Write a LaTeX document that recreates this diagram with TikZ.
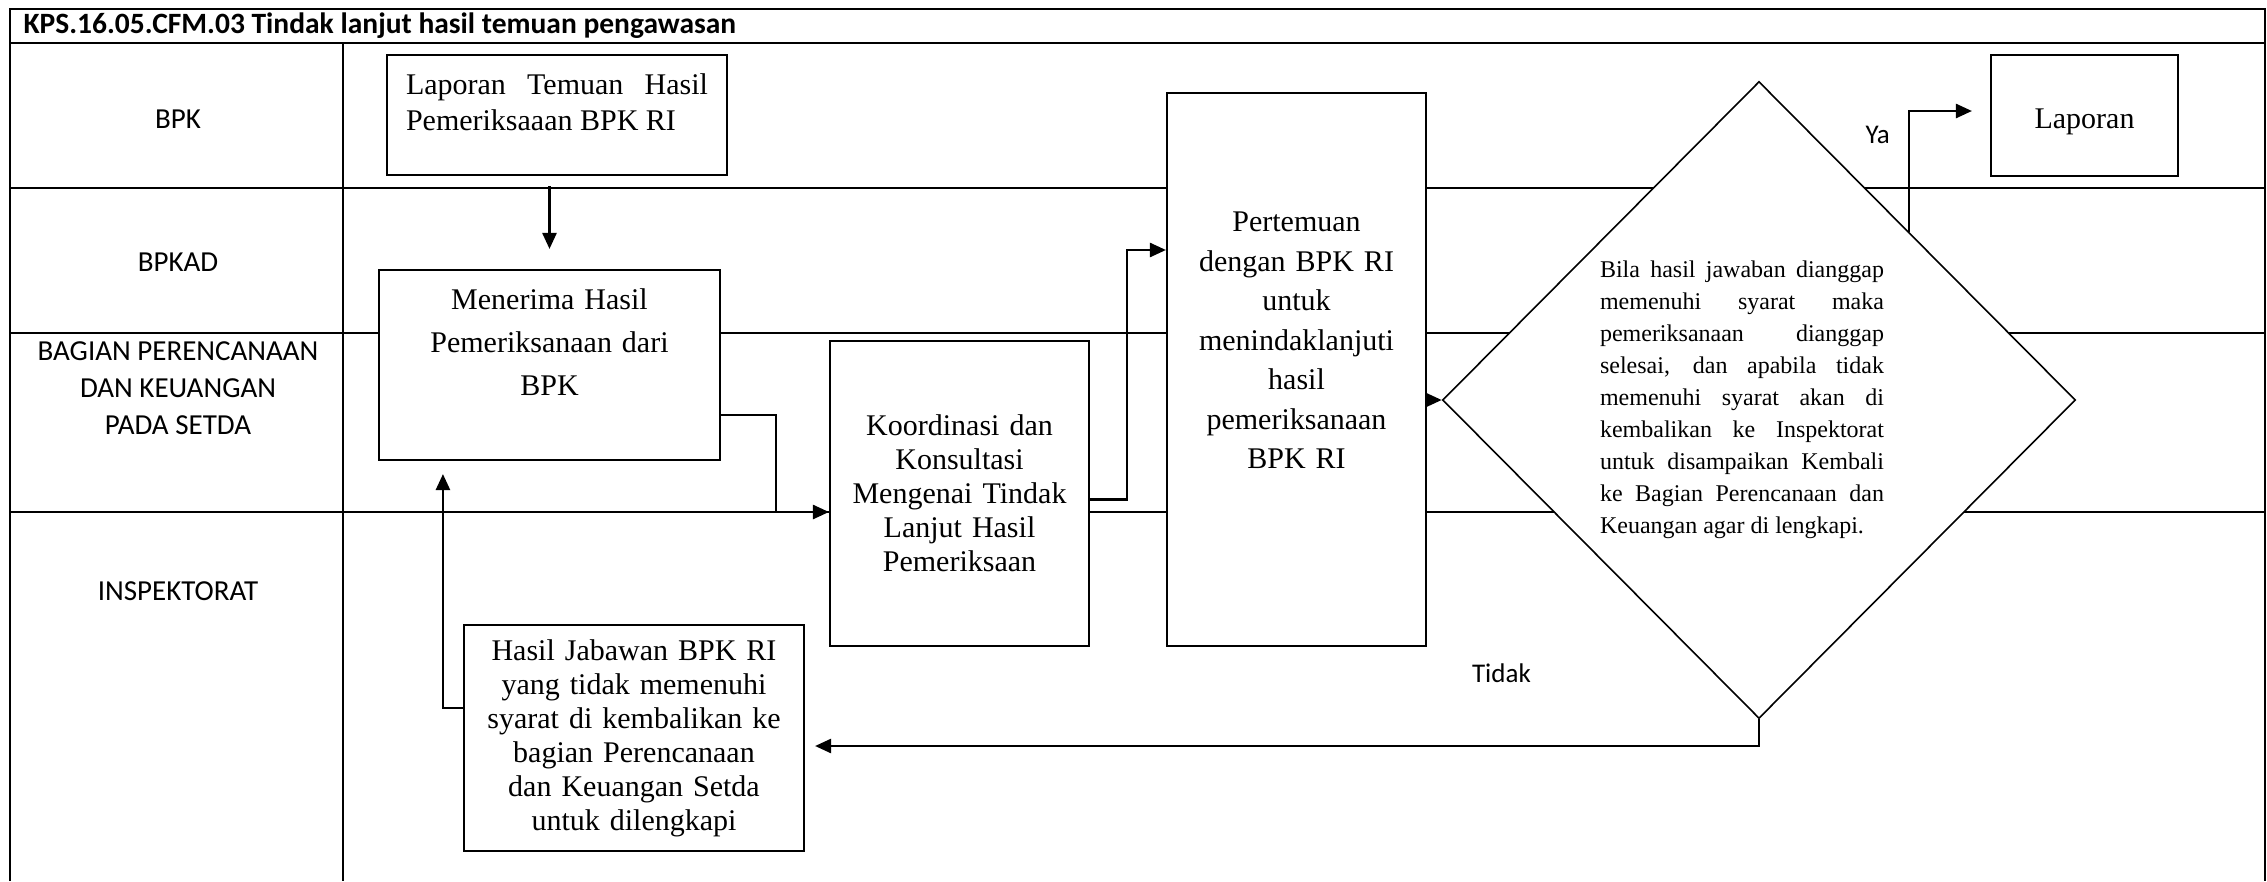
\documentclass[tikz,border=0pt]{standalone}
\usepackage{fontspec}
\setmainfont{Liberation Serif}
\newfontfamily\lanefont{Carlito}
\usetikzlibrary{shapes.geometric, arrows.meta, positioning, calc}

\begin{document}
\begin{tikzpicture}[
    x=1pt, y=-1pt,
    frame/.style={line width=2.1pt},
    lane/.style={font=\lanefont\fontsize{29}{37}\selectfont, align=center},
    box/.style={draw, line width=2.1pt, fill=white, align=center, inner sep=0pt, font=\fontsize{30}{36}\selectfont},
    decision/.style={diamond, draw, line width=1.6pt, fill=white, inner sep=0pt, aspect=1, font=\fontsize{24}{32}\selectfont},
    arrow/.style={-{Triangle[length=16pt, width=14pt]}, line width=2.5pt},
    lbl/.style={font=\lanefont\fontsize{27}{32}\selectfont, inner sep=0pt}
]
\useasboundingbox (0,0) rectangle (2267,881);

\draw[frame] (10,881) -- (10,9) -- (2265,9) -- (2265,881);
\draw[frame] (10,43) -- (2265,43);
\draw[frame] (343,43) -- (343,881);
\draw[frame] (10,188) -- (2265,188);
\draw[frame] (10,333) -- (2265,333);
\draw[frame] (10,512) -- (2265,512);

\node[anchor=west, font=\lanefont\bfseries\fontsize{29.5}{34}\selectfont] (title) at (20,26) {KPS.16.05.CFM.03 Tindak lanjut hasil temuan pengawasan};

\node[lane] (bpk) at (178,119) {BPK};
\node[lane] (bpkad) at (178,262) {BPKAD};
\node[lane] (bagian) at (178,388) {BAGIAN PERENCANAAN\\DAN KEUANGAN\\PADA SETDA};
\node[lane] (insp) at (178,591) {INSPEKTORAT};

\node[box, minimum width=340pt, minimum height=120pt, text width=302pt, align=justify] (temuan) at (557,115) {Laporan Temuan Hasil\linebreak Pemeriksaaan BPK RI\rule[-26pt]{0pt}{0pt}};
\node[box, minimum width=341pt, minimum height=190pt, text width=300pt, font=\fontsize{30}{43}\selectfont] (terima) at (549.5,365) {Menerima Hasil\\Pemeriksanaan dari\\BPK\rule[-46pt]{0pt}{0pt}};
\node[box, minimum width=259pt, minimum height=305pt, text width=250pt, font=\fontsize{30}{34}\selectfont] (koord) at (959.5,493.5) {Koordinasi dan\\Konsultasi\\Mengenai Tindak\\Lanjut Hasil\\Pemeriksaan};
\node[box, minimum width=259pt, minimum height=553pt, text width=250pt, font=\fontsize{30}{39.5}\selectfont] (pert) at (1296.5,369.5) {Pertemuan\\dengan BPK RI\\untuk\\menindaklanjuti\\hasil\\pemeriksanaan\\BPK RI\rule[-58pt]{0pt}{0pt}};
\node[decision, minimum width=633pt, minimum height=637pt] (dec) at (1759,400) {\parbox{284pt}{Bila hasil jawaban dianggap\linebreak memenuhi syarat maka\linebreak pemeriksanaan dianggap\linebreak selesai, dan apabila tidak\linebreak memenuhi syarat akan di\linebreak kembalikan ke Inspektorat\linebreak untuk disampaikan Kembali\linebreak ke Bagian Perencanaan dan\linebreak Keuangan agar di lengkapi.}\hspace*{34pt}};
\node[box, minimum width=187pt, minimum height=121pt] (lap) at (2084.5,115.5) {\rule{0pt}{32pt}Laporan};
\node[box, minimum width=340pt, minimum height=226pt, text width=320pt, font=\fontsize{30}{34}\selectfont] (jawab) at (634,738) {Hasil Jabawan BPK RI\\yang tidak memenuhi\\syarat di kembalikan ke\\bagian Perencanaan\\dan Keuangan Setda\\untuk dilengkapi};

\draw[arrow, shorten <=10pt, shorten >=20pt] (temuan.south -| terima.north) -- (terima.north);
\draw[arrow] ([yshift=-50pt]terima.east) -- ++(55,0) |- ([yshift=-18.5pt]koord.west);
\draw[arrow] ([yshift=-6pt]koord.east) -- ++(37,0) |- ([yshift=119.5pt]pert.west);
\draw[arrow] (pert.east |- dec.west) -- (dec.west);
\coordinate (yes) at ($(dec.north)!0.473!(dec.east)$);
\draw[arrow, shorten >=18pt] (yes) |- node[lbl, pos=0.4, left=18pt] (ya) {Ya} ([yshift=4.5pt]lap.west);
\draw[arrow, shorten >=10pt] (dec.south) |- node[lbl, pos=0.635, above=62pt] (tidak) {Tidak} ([yshift=-8pt]jawab.east);
\draw[arrow, shorten >=13pt] ([yshift=30pt]jawab.west) -| ([xshift=65pt]terima.south west);

\end{tikzpicture}
\end{document}
